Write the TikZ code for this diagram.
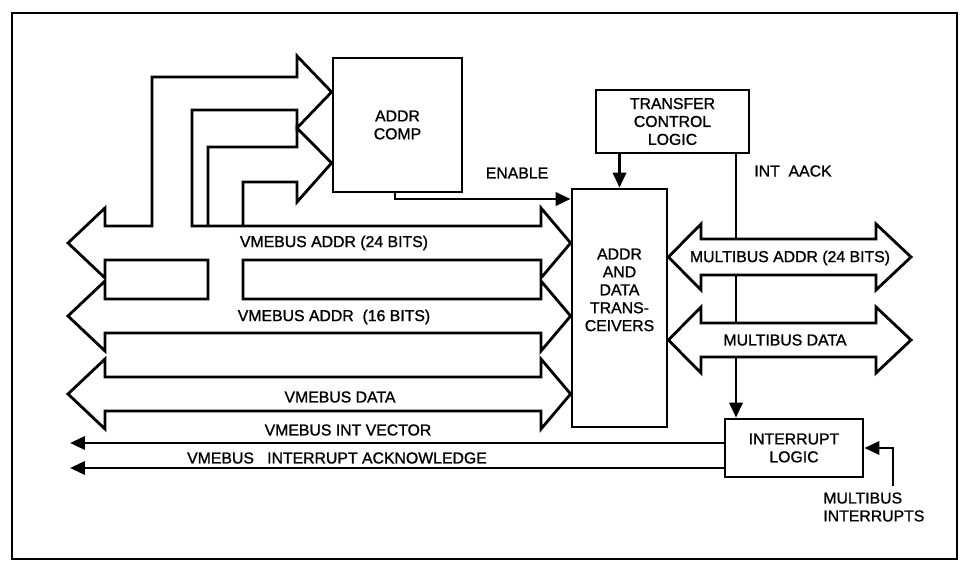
\documentclass[tikz,border=0pt]{standalone}
\usepackage{fontspec}
\setmainfont{Liberation Sans}
\newfontfamily\lbfam{Liberation Sans}[FakeBold=1.2]
\usetikzlibrary{arrows.meta}
\newcommand\lbfont{\lbfam\fontsize{9}{10.2}\selectfont}

\begin{document}
\begin{tikzpicture}[x=0.02cm, y=-0.02cm,
  blk/.style={rectangle, draw, line width=1.6pt, align=center, font=\lbfont, inner sep=0pt},
  bus/.style={line width=1.6pt, line join=miter},
  wbus/.style={bus, fill=white},
  arrow/.style={-{Triangle[length=8.5pt,width=7.5pt]}, line width=1.6pt},
  lbl/.style={font=\lbfont, inner sep=0pt}
]
\useasboundingbox (0,0) rectangle (966,570);
\draw[line width=1pt] (12,13) rectangle (957,559);

%% ---- BLOCKS ----
\node[blk, minimum width=2.58cm, minimum height=2.68cm] at (397.5,125) (comp) {ADDR\\COMP};
\node[blk, minimum width=3.06cm, minimum height=1.26cm] at (672.5,121.5) (tcl) {TRANSFER\\CONTROL\\LOGIC};
\node[blk, minimum width=1.90cm, minimum height=4.76cm] at (619.5,308) (xcvr) {ADDR\\AND\\DATA\\TRANS-\\CEIVERS\\[2.2ex]};
\node[blk, minimum width=2.76cm, minimum height=1.16cm] at (794,448) (intlog) {INTERRUPT\\LOGIC};

%% ---- free ends ----
\coordinate (en)    at (395,199);
\coordinate (aack)  at (736,300);
\coordinate (ivec)  at (70,443);
\coordinate (iack)  at (70,468);
\coordinate (mbint) at (893,486);

%% ---- control lines ----
\draw[arrow] (comp.south -| en) |- (xcvr.west |- en);
\draw[arrow] (tcl.south -| xcvr.north) -- (xcvr.north);
\draw[arrow] (tcl.south -| aack) -- (intlog.north -| aack);
\draw[arrow] (intlog.west |- ivec) -- (ivec);
\draw[arrow] (intlog.west |- iack) -- (iack);
\draw[arrow] (mbint) |- (intlog.east);

%% ---- VMEBUS ADDR (24 + 16 bits) with taps to ADDR COMP ----
\draw[bus] (105,226) -- (152,226) -- (152,77) -- (297,77) -- (297,56) -- (comp.west |- 0,92)
  -- (297,128) -- (297,110) -- (192,110) -- (192,226) -- (541,226) -- (541,208)
  -- (xcvr.west |- 0,243) -- (541,278) -- (541,260) -- (243,260) -- (243,299) -- (541,299)
  -- (541,281) -- (xcvr.west |- 0,316) -- (541,351) -- (541,333) -- (105,333) -- (105,351)
  -- (68,316) -- (105,281) -- (105,299) -- (208,299) -- (208,260) -- (105,260) -- (105,278)
  -- (68,243) -- (105,208) -- cycle;
\draw[bus] (243,226) -- (243,182) -- (297,182) -- (297,202) -- (comp.west |- 0,163)
  -- (297,128) -- (297,147) -- (208,147) -- (208,226);

%% ---- VMEBUS DATA ----
\draw[bus] (105,377) -- (541,377) -- (541,359) -- (xcvr.west |- 0,394) -- (541,429)
  -- (541,411) -- (105,411) -- (105,429) -- (68,394) -- (105,359) -- cycle;

%% ---- MULTIBUS ----
\draw[wbus] (701,239) -- (876,239) -- (876,224) -- (911,257) -- (876,290) -- (876,275)
  -- (701,275) -- (701,290) -- (xcvr.east |- 0,257) -- (701,224) -- cycle;
\draw[wbus] (701,323) -- (876,323) -- (876,307) -- (911,340) -- (876,373) -- (876,357)
  -- (701,357) -- (701,373) -- (xcvr.east |- 0,340) -- (701,307) -- cycle;

%% ---- Labels ----
\node[lbl] at (517,173) (lenable) {ENABLE};
\node[lbl] at (793,171) (laack)   {INT\ \ AACK};
\node[lbl] at (334,243) (lva24)   {VMEBUS ADDR (24 BITS)};
\node[lbl] at (334,317) (lva16)   {VMEBUS ADDR\ \ (16 BITS)};
\node[lbl] at (340,397) (lvdata)  {VMEBUS DATA};
\node[lbl] at (790,258) (lma24)   {MULTIBUS ADDR (24 BITS)};
\node[lbl] at (785,340) (lmdata)  {MULTIBUS DATA};
\node[lbl] at (348,430) (lvec)    {VMEBUS INT VECTOR};
\node[lbl] at (337,458) (liack)   {VMEBUS\ \ \ INTERRUPT ACKNOWLEDGE};
\node[lbl, anchor=west, align=left] at (823,507) (lmbint) {MULTIBUS\\INTERRUPTS};
\end{tikzpicture}
\end{document}
